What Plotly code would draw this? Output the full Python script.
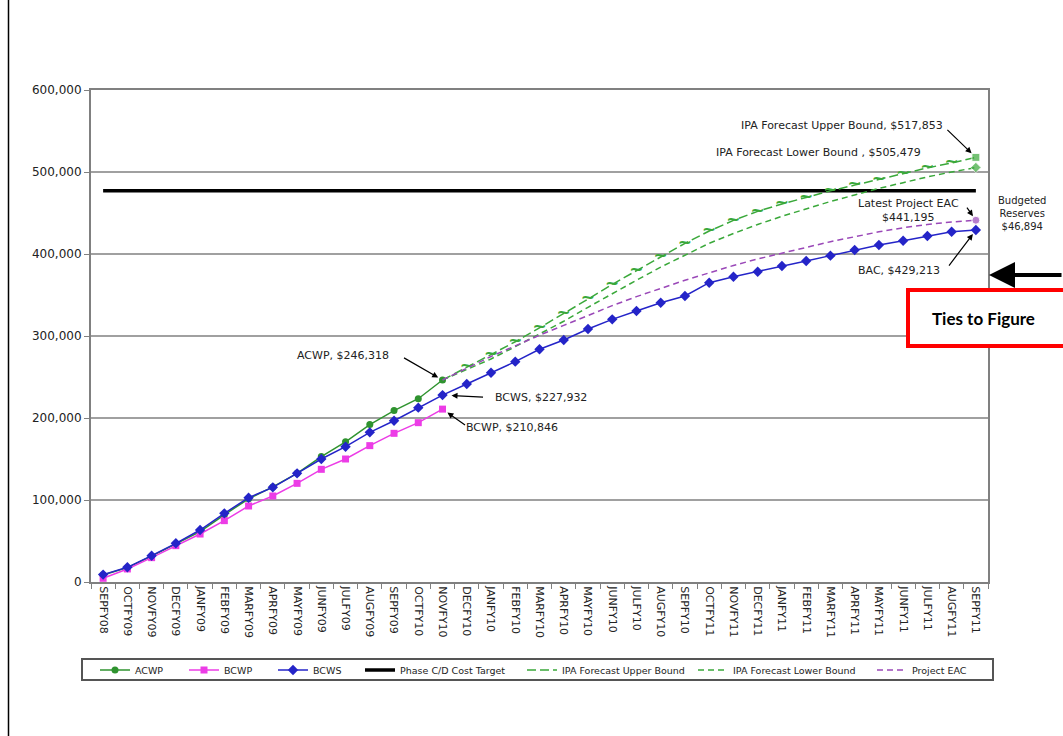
import plotly.graph_objects as go

# ---- data -------------------------------------------------------------
categories = [
    "SEPFY08", "OCTFY09", "NOVFY09", "DECFY09", "JANFY09", "FEBFY09", "MARFY09",
    "APRFY09", "MAYFY09", "JUNFY09", "JULFY09", "AUGFY09", "SEPFY09", "OCTFY10",
    "NOVFY10", "DECFY10", "JANFY10", "FEBFY10", "MARFY10", "APRFY10", "MAYFY10",
    "JUNFY10", "JULFY10", "AUGFY10", "SEPFY10", "OCTFY11", "NOVFY11", "DECFY11",
    "JANFY11", "FEBFY11", "MARFY11", "APRFY11", "MAYFY11", "JUNFY11", "JULFY11",
    "AUGFY11", "SEPFY11",
]

acwp = [8500, 17500, 31500, 46000, 61500, 82000, 101500, 116000, 132500, 153000,
        171000, 192000, 209000, 223500, 246318] + [None] * 22
bcwp = [4500, 15900, 29700, 44300, 58500, 74800, 92700, 104900, 120300, 137400,
        150000, 166300, 181300, 194300, 210846] + [None] * 22
bcws = [9000, 17900, 32100, 47200, 63400, 83700, 102800, 115400, 132500, 150000,
        165000, 182500, 196700, 212600, 227932, 241500, 255200, 268700, 283800,
        295100, 308500, 320300, 330500, 340600, 348800, 365000, 372300, 378400,
        385400, 391500, 398000, 404900, 411000, 416200, 422000, 427200, 429213]
cost_target = [477000] * 37

ipa_upper = [None] * 14 + [246318, 262000, 277000, 293000, 310000, 327000, 345000,
                           363000, 380000, 397000, 413000, 428000, 441000, 452000,
                           461000, 469000, 477000, 484000, 491000, 498000, 505000,
                           511000, 517853]
ipa_lower = [None] * 14 + [246318, 259000, 272000, 287000, 302000, 318000, 335000,
                           352000, 368000, 384000, 399000, 413000, 425000, 436000,
                           446000, 455000, 464000, 472000, 480000, 487000, 494000,
                           500000, 505479]
project_eac = [None] * 14 + [246318, 261000, 275000, 288000, 301000, 313000, 325000,
                             337000, 348000, 358000, 368000, 377000, 386000, 394000,
                             401000, 408000, 415000, 421000, 427000, 432000, 436000,
                             439000, 441195]
budgeted_reserves = 46894

# ---- layout geometry (pixels of the 1063 x 736 page) -----------------
W, H = 1063, 736
PL, PR, PT, PB = 91, 988, 90, 582


def px2x(px):
    return (px - PL) / (PR - PL)


def py2y(py):
    return (PB - py) / (PB - PT)


GREEN = "#2f932f"
GREEN_F = "#3aa83a"
MAGENTA = "#ec3ce6"
BLUE = "#2424c8"
PURPLE = "#9a48b8"
FONT = "DejaVu Sans"
TXT = "#222222"

last = len(categories) - 1
a_idx = 14  # last month with actuals

fig = go.Figure()

fig.add_trace(go.Scatter(
    x=categories, y=acwp, name="ACWP", mode="lines+markers",
    line=dict(color=GREEN, width=1.5),
    marker=dict(symbol="circle", size=7, color=GREEN),
    legend="legend"))
fig.add_trace(go.Scatter(
    x=categories, y=bcwp, name="BCWP", mode="lines+markers",
    line=dict(color=MAGENTA, width=1.5),
    marker=dict(symbol="square", size=7, color=MAGENTA),
    legend="legend2"))
fig.add_trace(go.Scatter(
    x=categories, y=bcws, name="BCWS", mode="lines+markers",
    line=dict(color=BLUE, width=1.5),
    marker=dict(symbol="diamond", size=8, color=BLUE),
    legend="legend3"))
fig.add_trace(go.Scatter(
    x=categories, y=cost_target, name="Phase C/D Cost Target", mode="lines",
    line=dict(color="black", width=3.5),
    legend="legend4"))
fig.add_trace(go.Scatter(
    x=categories, y=ipa_upper, name="IPA Forecast Upper Bound", mode="lines",
    line=dict(color=GREEN_F, width=1.5, dash="9px,4px"),
    legend="legend5"))
# squiggle markers along the upper bound
fig.add_trace(go.Scatter(
    x=categories[a_idx + 1:last], y=ipa_upper[a_idx + 1:last], mode="text",
    text=["<b>~</b>"] * (last - a_idx - 1),
    textposition="middle center",
    textfont=dict(family="DejaVu Sans", size=17, color=GREEN_F),
    showlegend=False, hoverinfo="skip"))
fig.add_trace(go.Scatter(
    x=categories, y=ipa_lower, name="IPA Forecast Lower Bound", mode="lines",
    line=dict(color=GREEN_F, width=1.5, dash="6px,4px"),
    legend="legend6"))
fig.add_trace(go.Scatter(
    x=categories, y=project_eac, name="Project EAC", mode="lines",
    line=dict(color=PURPLE, width=1.5, dash="6px,4px"),
    legend="legend7"))

# end-point markers
fig.add_trace(go.Scatter(
    x=[categories[last]] * 3,
    y=[ipa_upper[last], ipa_lower[last], project_eac[last]],
    mode="markers",
    marker=dict(symbol=["square", "diamond", "circle"], size=[8, 8, 8],
                color=[GREEN_F, GREEN_F, PURPLE]),
    showlegend=False, hoverinfo="skip"))

# ---- annotations --------------------------------------------------------
ann = []


def label(x, y, text, xanchor, xshift, yshift, align="left"):
    ann.append(dict(x=x, y=y, xref="x", yref="y", text=text, showarrow=False,
                    xanchor=xanchor, yanchor="middle", xshift=xshift, yshift=yshift,
                    align=align, font=dict(family=FONT, size=11, color=TXT)))


def pointer(x, y, ax, ay, standoff):
    ann.append(dict(x=x, y=y, xref="x", yref="y", text="", showarrow=True,
                    ax=ax, ay=ay, arrowhead=2, arrowsize=1, arrowwidth=1.2,
                    arrowcolor="black", standoff=standoff))


c_a = categories[a_idx]
c_l = categories[last]

label(c_a, acwp[a_idx], f"ACWP, ${acwp[a_idx]:,}", "right", -52, 25)
pointer(c_a, acwp[a_idx], -40, -23, 5)

label(c_a, bcws[a_idx], f"BCWS, ${bcws[a_idx]:,}", "left", 50, -2)
pointer(c_a, bcws[a_idx], 42, 2, 9)

label(c_a, bcwp[a_idx], f"BCWP, ${bcwp[a_idx]:,}", "left", 21, -18)
pointer(c_a, bcwp[a_idx], 24, 17, 6)

label(c_l, ipa_upper[last], f"IPA Forecast Upper Bound, ${ipa_upper[last]:,}",
      "right", -31, 32)
pointer(c_l, ipa_upper[last], -30, -29, 6)

label(c_l, ipa_lower[last], f"IPA Forecast Lower Bound , ${ipa_lower[last]:,}",
      "right", -53, 15)

label(c_l, project_eac[last], f"Latest Project EAC<br>${project_eac[last]:,}",
      "center", -67, 10, align="center")
pointer(c_l, project_eac[last], -10, -14, 5)

label(c_l, bcws[last], f"BAC, ${bcws[last]:,}", "right", -34, -40)
pointer(c_l, bcws[last], -28, 37, 5)

ann.append(dict(x=px2x(1022), y=py2y(213), xref="paper", yref="paper",
                text=f"Budgeted<br>Reserves<br>${budgeted_reserves:,}",
                showarrow=False, align="center", xanchor="center", yanchor="middle",
                font=dict(family=FONT, size=10, color=TXT)))

# big pointer from the right margin to the chart
ann.append(dict(x=px2x(989), y=py2y(275), xref="paper", yref="paper", text="",
                showarrow=True, ax=100, ay=0, arrowhead=2, arrowsize=1.3,
                arrowwidth=4, arrowcolor="black"))

ann.append(dict(x=px2x(930), y=py2y(318), xref="paper", yref="paper",
                text="<b>Ties to Figure</b>", showarrow=False,
                xanchor="left", yanchor="middle",
                font=dict(family="Lato", size=17, color="black")))

shapes = [
    # callout box
    dict(type="rect", xref="paper", yref="paper",
         x0=px2x(908), x1=px2x(1110), y0=py2y(346), y1=py2y(290),
         line=dict(color="#ff0000", width=4), fillcolor="white", layer="above"),
    # legend frame
    dict(type="rect", xref="paper", yref="paper",
         x0=px2x(82), x1=px2x(993), y0=py2y(680), y1=py2y(659),
         line=dict(color="#555555", width=2), fillcolor="rgba(0,0,0,0)",
         layer="above"),
    # page border on the left
    dict(type="line", xref="paper", yref="paper",
         x0=px2x(8.5), x1=px2x(8.5), y0=py2y(0), y1=py2y(H),
         line=dict(color="black", width=1.5)),
]

# ---- legends: one per series, laid out along a single row ------------
legend_left = [95, 184, 273, 360, 522, 693, 872]
legend_names = ["legend", "legend2", "legend3", "legend4", "legend5", "legend6", "legend7"]
legends = {}
for name, left in zip(legend_names, legend_left):
    legends[name] = dict(x=px2x(left), y=py2y(670), xanchor="left", yanchor="middle",
                         bgcolor="rgba(0,0,0,0)", borderwidth=0, itemwidth=30,
                         font=dict(family=FONT, size=9.5, color=TXT),
                         tracegroupgap=0)

fig.update_layout(
    width=W, height=H,
    margin=dict(l=PL, r=W - PR, t=PT, b=H - PB, autoexpand=False),
    paper_bgcolor="white", plot_bgcolor="white",
    annotations=ann, shapes=shapes,
    **legends,
)

fig.update_xaxes(
    type="category", categoryorder="array", categoryarray=categories,
    range=[-0.5, last + 0.5], tickangle=90, ticks="outside", tickson="boundaries",
    ticklen=5, tickcolor="#808080", showgrid=False,
    showline=True, linecolor="#808080", linewidth=2, mirror=True,
    tickfont=dict(family=FONT, size=11, color=TXT),
)
fig.update_yaxes(
    range=[0, 600000], dtick=100000, tickformat=",", ticks="outside", ticklen=5,
    tickcolor="#808080", showgrid=True, gridcolor="#a0a0a0", gridwidth=1.5,
    zeroline=False, showline=True, linecolor="#808080", linewidth=2, mirror=True,
    tickfont=dict(family=FONT, size=12, color=TXT),
)

fig.write_html("out.html")
